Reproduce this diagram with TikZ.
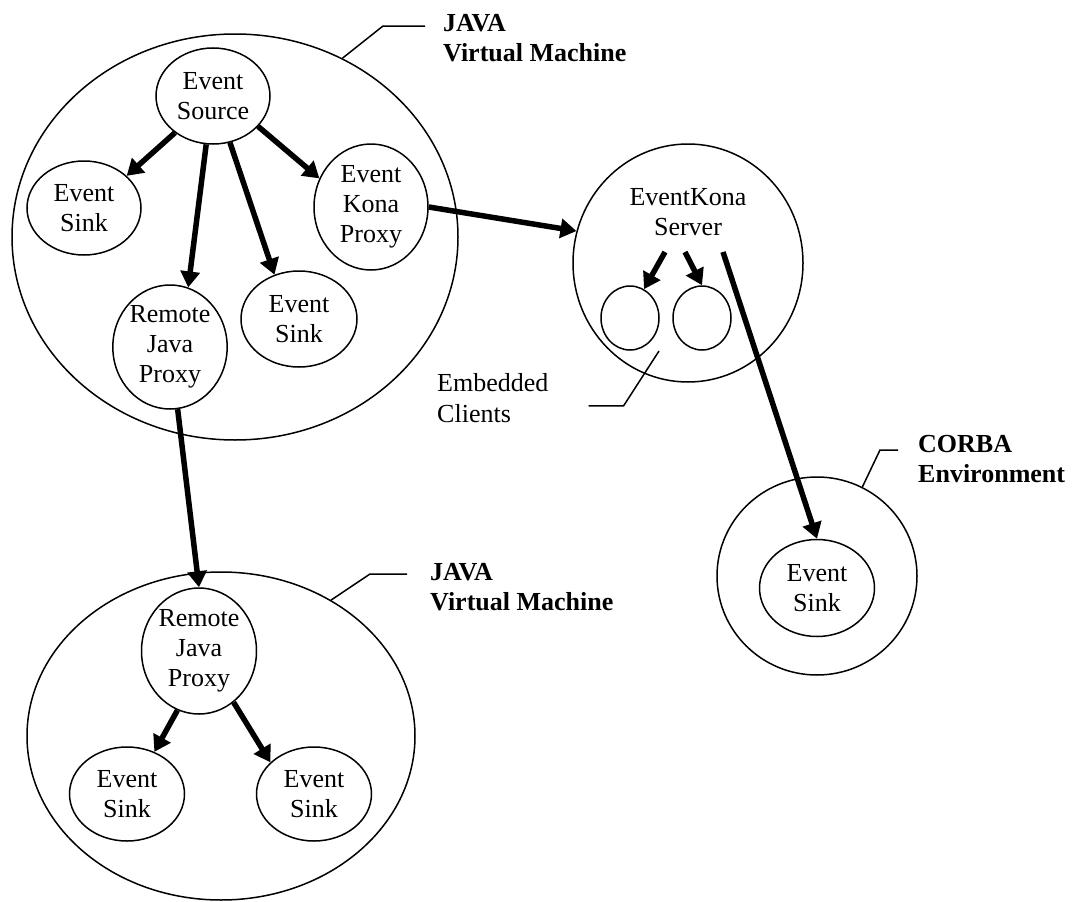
\documentclass[tikz,border=0pt]{standalone}
\usepackage{fontspec}
\setmainfont{Liberation Serif}
\usetikzlibrary{shapes.geometric,arrows.meta}
\tikzset{
  evnode/.style={ellipse, draw, line width=1.5pt, inner sep=0pt, align=center,
    font=\fontsize{26}{30}\selectfont},
  flow/.style={line width=5.5pt, -{Triangle[length=16pt,width=19pt]}},
  callout/.style={line width=1.5pt},
  vmlabel/.style={anchor=north west, inner sep=0pt, align=left,
    font=\bfseries\fontsize{26}{30}\selectfont},
  plainlabel/.style={anchor=north west, inner sep=0pt, align=left,
    font=\fontsize{26}{31}\selectfont}
}

\begin{document}
\begin{tikzpicture}[x=1pt,y=-1pt]
  \useasboundingbox (0,0) rectangle (1072,902);

  % first virtual machine
  \node[evnode, minimum width=446pt, minimum height=406pt] (vmA) at (235,237) {};
  \node[evnode, minimum width=114pt, minimum height=96pt] (source) at (213,96) {Event\\Source};
  \node[evnode, minimum width=114pt, minimum height=94pt] (sinkA) at (84,208) {Event\\Sink};
  \node[evnode, minimum width=114pt, minimum height=126pt] (kona) at (371,207) {Event\\Kona\\Proxy};
  \node[evnode, minimum width=114pt, minimum height=124pt] (proxyA) at (170,347) {Remote\\Java\\Proxy};
  \node[evnode, minimum width=116pt, minimum height=96pt] (sinkB) at (299,319) {Event\\Sink};
  \node[vmlabel] (vmAlabel) at (443,14) {JAVA\\Virtual Machine};

  % eventkona server
  \node[evnode, minimum width=230pt, minimum height=238pt] (server) at (688,263) {};
  \node[inner sep=0pt, align=center, font=\fontsize{26}{30}\selectfont] (srvText) at (688,212) {EventKona\\Server};
  \node[evnode, minimum width=58pt, minimum height=64pt] (clientA) at (630,318) {};
  \node[evnode, minimum width=58pt, minimum height=64pt] (clientB) at (702,318) {};
  \node[plainlabel] (clientsLabel) at (437,373) {Embedded\\Clients};
  \coordinate (clientsTip) at (659,351);
  \coordinate (srvOutA) at (665,252);
  \coordinate (srvOutB) at (685,252);
  \coordinate (srvOutC) at (723,252);

  % corba environment
  \node[evnode, minimum width=200pt, minimum height=198pt] (corba) at (817,576) {};
  \node[evnode, minimum width=115pt, minimum height=97pt] (corbaSink) at (817,588) {Event\\Sink};
  \node[vmlabel] (corbaLabel) at (918,435) {CORBA\\Environment};

  % second virtual machine
  \node[evnode, minimum width=388pt, minimum height=328pt] (vmB) at (221,736) {};
  \node[evnode, minimum width=115pt, minimum height=126pt] (proxyB) at (199,651) {Remote\\Java\\Proxy};
  \node[evnode, minimum width=115pt, minimum height=94pt] (sinkC) at (127,794) {Event\\Sink};
  \node[evnode, minimum width=115pt, minimum height=94pt] (sinkD) at (314,794) {Event\\Sink};
  \node[vmlabel] (vmBlabel) at (430,563) {JAVA\\Virtual Machine};

  % event flow
  \draw[flow] (source.224) -- (sinkA.37);
  \draw[flow] (source.262) -- (proxyA.73);
  \draw[flow] (source.290) -- (sinkB.119);
  \draw[flow] (source.-34) -- (kona.151);
  \draw[flow] (kona.east) -- (server.164);
  \draw[flow] (srvOutA) -- (clientA.64);
  \draw[flow] (srvOutB) -- (clientB.north);
  \draw[flow] (srvOutC) -- (corbaSink.north);
  \draw[flow] (proxyA.277) -- (proxyB.north);
  \draw[flow] (proxyB.250) -- (sinkC.57);
  \draw[flow] (proxyB.304) -- (sinkD.144);

  % callouts
  \draw[callout] ([xshift=-18pt,yshift=-12pt]vmAlabel.north west) -- ++(-42,0) -- (vmA.59);
  \draw[callout] ([xshift=-23pt,yshift=-11pt]vmBlabel.north west) -- ++(-37,0) -- (vmB.51);
  \draw[callout] ([xshift=-20pt,yshift=-15pt]corbaLabel.north west) -- ++(-18,0) -- (corba.63);
  \draw[callout] ([xshift=40pt,yshift=-8pt]clientsLabel.east) -- ++(35,0) -- (clientsTip);
\end{tikzpicture}
\end{document}
